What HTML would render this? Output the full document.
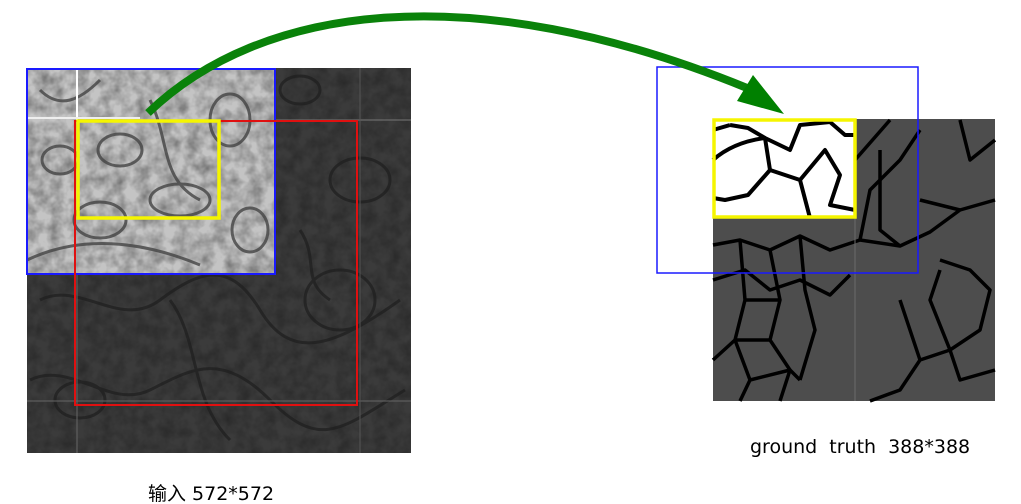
<!DOCTYPE html>
<html><head><meta charset="utf-8"><style>
html,body{margin:0;padding:0;background:#fff;width:1021px;height:504px;overflow:hidden}
svg{display:block}
text{font-family:"Liberation Sans","Noto Sans CJK SC",sans-serif}
</style></head><body>
<svg width="1021" height="504" viewBox="0 0 1021 504">
<defs>
<filter id="noise" x="0" y="0" width="100%" height="100%">
<feTurbulence type="fractalNoise" baseFrequency="0.08" numOctaves="3" seed="4"/>
<feColorMatrix type="matrix" values="0 0 0 0 0  0 0 0 0 0  0 0 0 0 0  0 0 0 -1.3 0.9"/>
</filter>
</defs>
<g>
<rect x="27" y="68" width="384" height="385" fill="#3b3b3b"/>
<rect x="27" y="68" width="384" height="385" filter="url(#noise)" opacity="0.35"/>
<g stroke="#1e1e1e" stroke-width="3" fill="none" opacity="0.7">
<path d="M40 300 C80 280 120 330 160 300 S230 260 260 310 S330 350 400 300"/>
<path d="M30 380 C70 360 110 410 150 390 S220 350 270 400 S340 430 405 390"/>
<ellipse cx="80" cy="400" rx="25" ry="18"/><ellipse cx="300" cy="90" rx="20" ry="14"/>
<ellipse cx="360" cy="180" rx="30" ry="22"/><ellipse cx="340" cy="300" rx="35" ry="30"/>
<path d="M170 300 C200 340 190 400 230 440"/><path d="M300 230 C320 260 300 280 330 300"/>
</g>
<line x1="27" y1="120" x2="411" y2="120" stroke="#777" stroke-width="1"/>
<line x1="27" y1="401" x2="411" y2="401" stroke="#666" stroke-width="1"/>
<line x1="77" y1="68" x2="77" y2="453" stroke="#666" stroke-width="1"/>
<line x1="360" y1="68" x2="360" y2="453" stroke="#555" stroke-width="1"/>
</g>
<g>
<rect x="27" y="68" width="248" height="206" fill="#c4c4c4"/>
<rect x="27" y="68" width="248" height="206" filter="url(#noise)" opacity="0.5"/>
<g stroke="#444" stroke-width="3" fill="none" opacity="0.8">
<ellipse cx="60" cy="160" rx="18" ry="14"/><ellipse cx="120" cy="150" rx="22" ry="16"/>
<ellipse cx="230" cy="120" rx="20" ry="26"/><ellipse cx="100" cy="220" rx="26" ry="18"/>
<ellipse cx="180" cy="200" rx="30" ry="16"/><ellipse cx="250" cy="230" rx="18" ry="22"/>
<path d="M27 260 C80 235 140 240 200 265"/><path d="M150 100 C170 140 160 180 200 200"/>
<path d="M40 90 C60 110 80 100 100 80"/>
</g>
<line x1="77" y1="68" x2="77" y2="120" stroke="#fff" stroke-width="2"/>
<line x1="27" y1="118" x2="140" y2="118" stroke="#eee" stroke-width="2"/>
</g>
<rect x="27" y="69" width="248" height="205" fill="none" stroke="#1a1aff" stroke-width="2"/>
<rect x="75" y="121" width="282" height="284" fill="none" stroke="#e01010" stroke-width="2"/>
<rect x="78" y="121" width="141" height="97" fill="none" stroke="#f5f500" stroke-width="3.5"/>

<g>
<rect x="713" y="119" width="282" height="282" fill="#4d4d4d"/>
<g stroke="#000" stroke-width="3.5" fill="none" stroke-linejoin="round">
<path d="M713 245 L740 240 L770 250 L800 236 L830 250 L860 240 L900 246 L930 232 L960 210 L995 200"/>
<path d="M713 280 L745 270 L770 290 L800 280 L830 295 L850 275"/>
<path d="M740 240 L745 300 L735 340 L750 380 L740 401"/><path d="M770 250 L780 300 L770 340 L790 370 L780 401"/>
<path d="M800 236 L805 290 L815 330 L800 380"/><path d="M745 300 L780 300"/><path d="M735 340 L770 340"/>
<path d="M750 380 L790 370 L800 380"/><path d="M860 240 L870 190 L900 160 L920 130"/><path d="M880 150 L880 230 L900 246"/>
<path d="M920 200 L960 210"/><path d="M855 160 L890 120"/>
<path d="M940 260 L970 270 L990 290 L980 330 L950 350 L920 360 L900 390 L870 401"/>
<path d="M950 350 L960 380 L995 370"/><path d="M900 300 L920 360"/><path d="M713 360 L735 340"/>
<path d="M960 120 L970 160 L995 140"/><path d="M940 270 L930 300 L950 350"/>
</g>
<rect x="713" y="119" width="142" height="99" fill="#fff"/>
<g stroke="#000" stroke-width="4" fill="none" stroke-linejoin="round">
<path d="M713 160 C730 145 750 140 765 138 L790 150 L800 125 L830 122 L845 135 L855 135"/>
<path d="M765 138 L770 170 L748 195 L725 200 L713 198"/><path d="M770 170 L800 180 L810 218"/>
<path d="M800 180 L825 150 L840 175 L830 205 L855 210"/><path d="M730 125 L748 128 L765 138"/>
<path d="M713 130 L730 125"/>
</g>
<line x1="855" y1="119" x2="855" y2="401" stroke="#6a6a6a" stroke-width="1"/>
</g>
<rect x="657" y="67" width="261" height="206" fill="none" stroke="#1a1aff" stroke-width="1.5"/>
<rect x="714" y="120" width="141" height="97" fill="none" stroke="#f5f500" stroke-width="3.5"/>

<g>
<path d="M148 113 C260 5 470 -25 747 88" fill="none" stroke="#0a820a" stroke-width="8"/>
<polygon points="753,75 737,101 784,114" fill="#008000"/>
</g>

<text x="750" y="453" font-size="19" fill="#000" style="font-family:'DejaVu Sans',sans-serif" word-spacing="6">ground truth 388*388</text>
<text x="148" y="500" font-size="19" fill="#000" style="font-family:'DejaVu Sans','Noto Sans CJK SC',sans-serif">输入 572*572</text>
</svg>
</body></html>
